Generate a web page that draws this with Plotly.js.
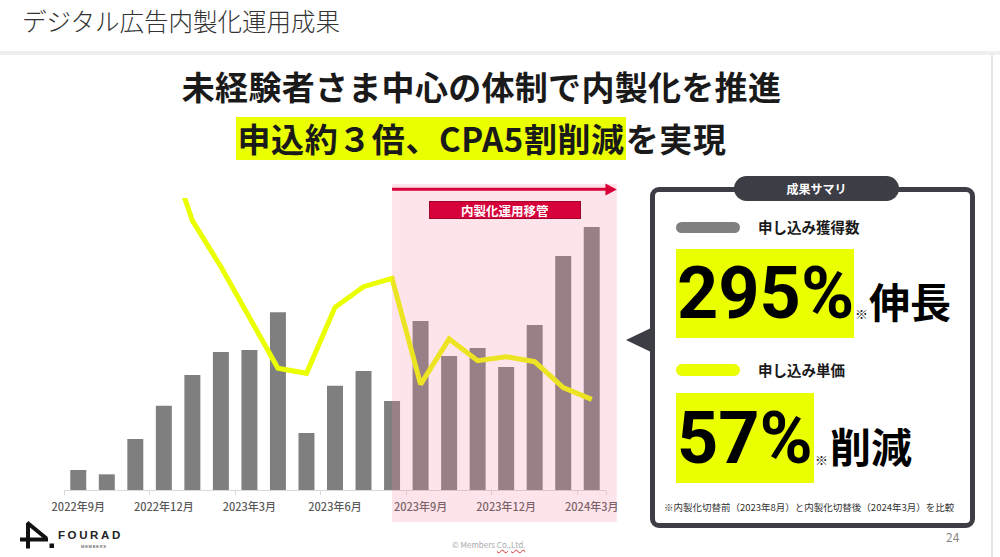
<!DOCTYPE html>
<html>
<head>
<meta charset="utf-8">
<script src="https://cdn.plot.ly/plotly-3.0.1.min.js"></script>
<style>
html,body{margin:0;padding:0;background:#fff;}
body{width:1000px;height:557px;position:relative;overflow:hidden;font-family:"Noto Sans CJK JP","Noto Sans",sans-serif;color:#1a1a1a;}
#chart{position:absolute;left:0;top:0;width:1000px;height:557px;z-index:1;}
.abs{position:absolute;white-space:nowrap;z-index:2;}
#hdr{left:22px;top:6px;font-size:24.5px;font-weight:300;line-height:30px;color:#333;}
#sep{left:0;top:51px;width:1000px;height:4px;background:#efefef;}
#vsep{left:991px;top:55px;width:2px;height:502px;background:#e6e6e6;}
.head{left:0;width:963px;text-align:center;font-size:33px;font-weight:700;color:#1a1a1a;}
#h1{top:66px;line-height:40px;letter-spacing:0.3px;}
#h2{top:117px;line-height:43px;letter-spacing:0.6px;}
#h2 .hl{display:inline-block;height:43px;background:#eaff00;padding:0 1px;}
#box{left:650px;top:187px;width:325px;height:341px;box-sizing:border-box;border:5px solid #3d3d45;border-radius:9px;background:#fff;}
#tab{left:734px;top:176px;width:165px;height:25px;border-radius:13px;background:#3d3d45;color:#fff;font-size:12px;font-weight:700;line-height:25px;text-align:center;}
#ptr{left:626px;top:328px;width:0;height:0;border-top:12px solid transparent;border-bottom:12px solid transparent;border-right:25px solid #3d3d45;}
.pill{width:64px;height:11px;border-radius:6px;}
.lab{font-size:14.5px;font-weight:700;line-height:20px;color:#1a1a1a;}
.ybox{background:#eaff00;}
.big{font-family:Roboto,"Liberation Sans",sans-serif;font-weight:700;font-size:72px;line-height:72px;color:#000;}
.kome{font-size:13px;line-height:13px;color:#222;}
.word{font-size:41px;font-weight:700;line-height:41px;color:#000;}
#note{left:664px;top:501px;font-size:9.5px;line-height:12px;color:#333;}
#copy{left:452px;top:540px;font-size:8px;line-height:10px;color:#aaa;}
#copy span{text-decoration:underline wavy #e03030;}
#page{left:946px;top:530px;font-size:12px;line-height:14px;color:#888;}
#brand{left:58px;top:528px;font-family:"Liberation Sans",Arial,sans-serif;font-size:11.5px;font-weight:700;letter-spacing:2.6px;line-height:14px;color:#222;}
#members{left:81px;top:544px;font-family:"Liberation Sans",Arial,sans-serif;font-size:4px;letter-spacing:0.8px;line-height:5px;color:#222;}
</style>
</head>
<body>
<div id="chart"></div>

<div class="abs" id="hdr">デジタル広告内製化運用成果</div>
<div class="abs" id="sep"></div>
<div class="abs" id="vsep"></div>

<div class="abs head" id="h1">未経験者さま中心の体制で内製化を推進</div>
<div class="abs head" id="h2"><span class="hl">申込約３倍、CPA5割削減</span>を実現</div>

<div class="abs" id="box"></div>
<div class="abs" id="tab">成果サマリ</div>
<div class="abs" id="ptr"></div>

<div class="abs pill" style="left:676px;top:222px;background:#808080;"></div>
<div class="abs lab" style="left:758px;top:217px;">申し込み獲得数</div>
<div class="abs ybox" style="left:676px;top:249px;width:178px;height:89px;"></div>
<div class="abs big" style="left:677px;top:258px;">295%</div>
<div class="abs kome" style="left:855px;top:307px;">※</div>
<div class="abs word" style="left:869px;top:280px;">伸長</div>

<div class="abs pill" style="left:676px;top:364px;height:12px;background:#eaff00;"></div>
<div class="abs lab" style="left:758px;top:360px;">申し込み単価</div>
<div class="abs ybox" style="left:676px;top:393px;width:138px;height:90px;"></div>
<div class="abs big" style="left:677px;top:403px;">57%</div>
<div class="abs kome" style="left:815px;top:453px;">※</div>
<div class="abs word" style="left:830px;top:425px;">削減</div>

<div class="abs" id="note">※内製化切替前（2023年8月）と内製化切替後（2024年3月）を比較</div>

<svg class="abs" style="left:0;top:515px;" width="60" height="42" viewBox="0 515 60 42">
  <line x1="28" y1="523" x2="28" y2="548.5" stroke="#111" stroke-width="4"/>
  <line x1="27" y1="522.5" x2="46.5" y2="538.5" stroke="#111" stroke-width="4"/>
  <line x1="20" y1="539.5" x2="48" y2="539.5" stroke="#111" stroke-width="4"/>
  <rect x="49.5" y="543.5" width="4.5" height="4.5" fill="#111"/>
</svg>
<div class="abs" id="brand">FOURAD</div>
<div class="abs" id="members">MEMBERS</div>
<div class="abs" id="copy">© Members <span>Co.,Ltd.</span></div>
<div class="abs" id="page">24</div>

<script>
// ---- data ----
const months = ["2022年9月","2022年10月","2022年11月","2022年12月","2023年1月","2023年2月","2023年3月",
  "2023年4月","2023年5月","2023年6月","2023年7月","2023年8月","2023年9月","2023年10月","2023年11月",
  "2023年12月","2024年1月","2024年2月","2024年3月"];
// 申し込み獲得数 (relative units)
const applications = [60,47,153,253,345,414,420,533,171,313,357,267,507,402,426,369,495,702,789];
// 申し込み単価 (relative units, same scale)
const cpa = [null,null,null,1060,808,670,517,365,350,548,610,635,317,453,388,400,385,307,272];
const tickMonths = ["2022年9月","2022年12月","2023年3月","2023年6月","2023年9月","2023年12月","2024年3月"];
const switchIndex = 11;           // 2023年8月: 内製化運用移管
const switchLabel = "内製化運用移管";

// paper position of the switch month centre (category axis, 19 equal bands)
const nCat = months.length;
const switchPaper = (switchIndex + 0.5) / nCat;
const zoneEnd = 1.02;             // shaded zone runs slightly past the axis end
const headBase = 0.999;

const traces = [
  {type:"bar", name:"申し込み獲得数", x:months, y:applications,
   marker:{color:"#7f7f7f"}, hoverinfo:"skip"},
  {type:"scatter", mode:"lines", name:"申し込み単価", x:months, y:cpa,
   line:{color:"#eaff00", width:5}, connectgaps:false, hoverinfo:"skip"}
];

const layout = {
  width:1000, height:557,
  margin:{l:64, r:394, t:198, b:67, pad:0},
  paper_bgcolor:"rgba(0,0,0,0)", plot_bgcolor:"rgba(0,0,0,0)",
  font:{family:"Noto Sans CJK JP, Noto Sans, sans-serif", color:"#595959"},
  showlegend:false,
  bargap:0.44,
  xaxis:{type:"category", range:[-0.5, nCat-0.5], tickmode:"array", tickvals:tickMonths, ticktext:tickMonths,
    tickson:"boundaries", ticks:"outside", ticklen:4, tickcolor:"#d9d9d9", tickwidth:1, tickangle:0,
    showline:true, linecolor:"#d9d9d9", linewidth:1, showgrid:false, zeroline:false,
    tickfont:{size:11, color:"#595959", weight:500}, ticklabelstandoff:7, fixedrange:true},
  yaxis:{range:[0, 876], visible:false, showgrid:false, zeroline:false, fixedrange:true},
  shapes:[
    {type:"rect", xref:"paper", yref:"paper", x0:switchPaper, x1:zoneEnd, y0:-0.11, y1:1.048,
     fillcolor:"rgba(246,132,160,0.22)", line:{width:0}, layer:"above"},
    {type:"line", xref:"paper", yref:"paper", x0:switchPaper, x1:headBase+0.002, y0:1.0298, y1:1.0298,
     line:{color:"#d9003a", width:3}, layer:"above"},
    {type:"path", xref:"paper", yref:"paper",
     path:"M "+headBase+",1.0497 L "+zoneEnd+",1.0291 L "+headBase+",1.0086 Z",
     fillcolor:"#d9003a", line:{width:0}, layer:"above"}
  ],
  annotations:[
    {text:switchLabel, xref:"paper", yref:"paper", x:0.8137, y:0.9589, xanchor:"center", yanchor:"middle",
     showarrow:false, width:150, height:16, bgcolor:"#d6003a", bordercolor:"#a3002b", borderwidth:1, borderpad:0,
     font:{size:12.5, color:"#ffffff", weight:700}}
  ]
};

Plotly.newPlot("chart", traces, layout, {displayModeBar:false, staticPlot:true});
</script>
</body>
</html>
